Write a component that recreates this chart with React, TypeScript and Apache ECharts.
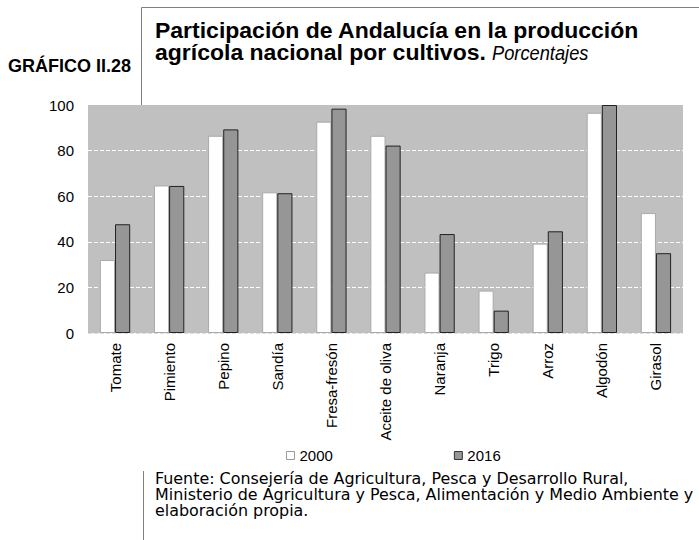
import React, { useEffect, useRef } from "react";
import * as echarts from "echarts";

const categories = ["Tomate", "Pimiento", "Pepino", "Sandía", "Fresa-fresón", "Aceite de oliva", "Naranja", "Trigo", "Arroz", "Algodón", "Girasol"];
const values2000 = [32.0, 64.7, 86.5, 61.7, 92.7, 86.5, 26.5, 18.6, 39.2, 96.6, 52.6];
const values2016 = [47.7, 64.5, 89.3, 61.3, 98.4, 82.2, 43.4, 9.8, 44.6, 100.0, 35.0];
const yTicks = [0, 20, 40, 60, 80, 100];

const titleLines = ["Participación de Andalucía en la producción", "agrícola nacional por cultivos."];
const titleUnit = "Porcentajes";
const sourceLines = [
  "Fuente: Consejería de Agricultura, Pesca y Desarrollo Rural,",
  "Ministerio de Agricultura y Pesca, Alimentación y Medio Ambiente y",
  "elaboración propia.",
];

const ARIAL = "'Liberation Sans', Arial, sans-serif";
const FOOT = "'DejaVu Sans Condensed', 'DejaVu Sans', sans-serif";

export default function App() {
  const ref = useRef<HTMLDivElement>(null);
  useEffect(() => {
    document.body.style.margin = "0";
    const chart = echarts.init(ref.current!, null, { renderer: "svg" });
    const titleY = [30.8, 52.5];
    const sourceY = [479.3, 495.3, 511.3];
    chart.setOption({
      animation: false,
      backgroundColor: "#ffffff",
      grid: { left: 88, right: 16, top: 105, bottom: 207, show: true, backgroundColor: "#c0c0c0", borderWidth: 0 },
      legend: {
        left: 286,
        top: 448,
        padding: 0,
        itemWidth: 8,
        itemHeight: 8,
        itemGap: 121,
        textStyle: { fontFamily: ARIAL, fontSize: 15, color: "#000" },
        data: [
          { name: "2000", icon: "rect", itemStyle: { color: "#ffffff", borderColor: "#999", borderWidth: 1 } },
          { name: "2016", icon: "rect", itemStyle: { color: "#969696", borderColor: "#333", borderWidth: 1 } },
        ],
      },
      xAxis: {
        type: "category",
        data: categories,
        axisLine: { show: false },
        axisTick: { show: false },
        axisLabel: { rotate: 90, margin: 10, fontFamily: ARIAL, fontSize: 15, color: "#000", interval: 0 },
      },
      yAxis: {
        type: "value",
        min: 0,
        max: 100,
        interval: 20,
        axisLine: { show: false },
        axisTick: { show: false },
        axisLabel: {
          margin: 14,
          fontFamily: ARIAL,
          fontSize: 15,
          color: "#000",
          formatter: (v: number) => (yTicks.includes(v) ? String(v) : ""),
        },
        splitLine: {
          lineStyle: { type: "dashed", width: 1, color: ["#dddddd", "#ffffff", "#ffffff", "#ffffff", "#ffffff", "#c0c0c0"] },
        },
      },
      series: [
        {
          name: "2000",
          type: "bar",
          data: values2000,
          barGap: "0%",
          barCategoryGap: "44%",
          itemStyle: { color: "#ffffff", borderColor: "#aaaaaa", borderWidth: 1 },
        },
        {
          name: "2016",
          type: "bar",
          data: values2016,
          barGap: "0%",
          barCategoryGap: "44%",
          itemStyle: { color: "#969696", borderColor: "#222222", borderWidth: 1 },
        },
      ],
      graphic: [
        { type: "line", shape: { x1: 141.5, y1: 7.5, x2: 699, y2: 7.5 }, style: { stroke: "#808080", lineWidth: 1 } },
        { type: "line", shape: { x1: 141.5, y1: 7.5, x2: 141.5, y2: 105 }, style: { stroke: "#808080", lineWidth: 1 } },
        { type: "line", shape: { x1: 143.5, y1: 471, x2: 143.5, y2: 540 }, style: { stroke: "#808080", lineWidth: 1 } },
        {
          type: "text",
          left: 8,
          top: 56.5,
          style: { text: "GRÁFICO II.28", font: `bold 18px ${ARIAL}`, fill: "#000" },
        },
        ...titleLines.map((t, i) => ({
          type: "text",
          x: 155,
          y: titleY[i],
          scaleX: 1.07,
          style: { text: t, font: `bold 21.5px ${ARIAL}`, fill: "#000", verticalAlign: "middle", align: "left" },
        })),
        {
          type: "text",
          x: 492,
          y: 52.5,
          scaleX: 0.87,
          style: { text: titleUnit, font: `italic 21px ${ARIAL}`, fill: "#000", verticalAlign: "middle", align: "left" },
        },
        ...sourceLines.map((t, i) => ({
          type: "text",
          x: 155,
          y: sourceY[i],
          scaleX: 1.18,
          style: { text: t, font: `15px ${FOOT}`, fill: "#000", verticalAlign: "middle", align: "left" },
        })),
      ],
    });
    return () => chart.dispose();
  }, []);
  return <div ref={ref} style={{ width: 699, height: 540 }} />;
}
